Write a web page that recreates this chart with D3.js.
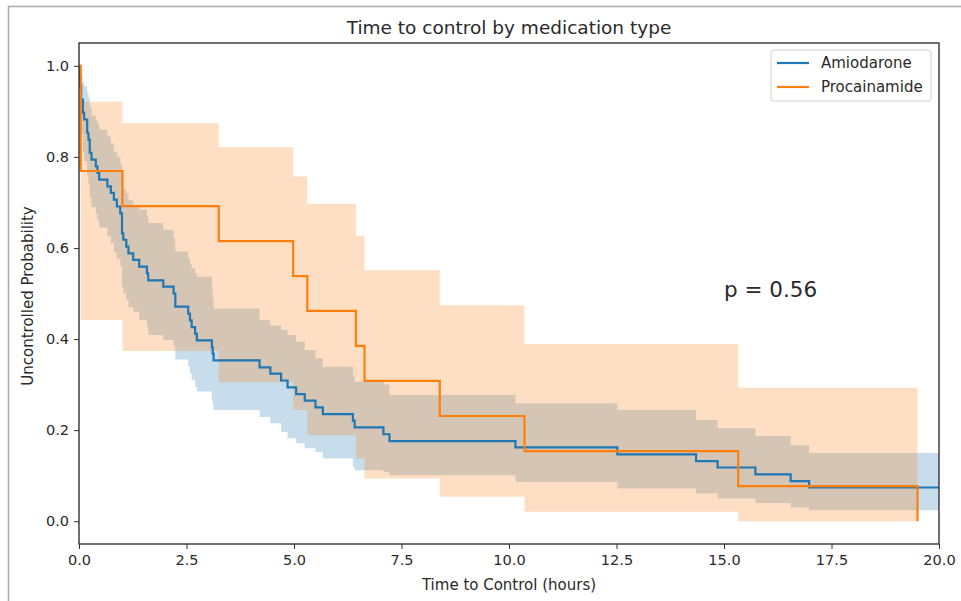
<!DOCTYPE html>
<html>
<head>
<meta charset="utf-8">
<script src="https://cdn.jsdelivr.net/npm/d3@7"></script>
<style>
  body { margin: 0; background: #fff; }
  svg { display: block; font-family: "DejaVu Sans", sans-serif; }
  .tick text { font-size: 14.5px; fill: #2a2a2a; }
  .label { font-size: 15px; fill: #2a2a2a; }
  .title { font-size: 18.5px; fill: #2a2a2a; }
</style>
</head>
<body>
<svg width="961" height="601"></svg>
<script>
// **** Data ****
// Amiodarone: event times (hours), survival, and 95% CI bounds after each event
var amioTime = [0, 0.02, 0.05, 0.09, 0.12, 0.19, 0.22, 0.25, 0.29, 0.39, 0.43, 0.47, 0.66, 0.74, 0.81, 0.88, 0.96,
  1.00, 1.03, 1.10, 1.15, 1.26, 1.40, 1.58, 1.61, 1.96, 2.20, 2.24, 2.54, 2.58, 2.62, 2.70, 2.74, 3.09, 3.11, 3.13,
  4.20, 4.45, 4.70, 4.85, 5.05, 5.25, 5.50, 5.67, 6.37, 6.41, 7.08, 7.22, 10.15, 12.52, 14.35, 14.85, 15.73, 16.55, 16.98];
var amioSurv = [1, 0.956, 0.926, 0.897, 0.882, 0.853, 0.838, 0.809, 0.794, 0.779, 0.765, 0.750, 0.735, 0.721, 0.706, 0.691, 0.676,
  0.632, 0.618, 0.603, 0.588, 0.574, 0.559, 0.544, 0.529, 0.515, 0.500, 0.471, 0.456, 0.441, 0.426, 0.412, 0.397, 0.382, 0.368, 0.353,
  0.338, 0.324, 0.309, 0.294, 0.279, 0.265, 0.250, 0.235, 0.221, 0.206, 0.191, 0.176, 0.162, 0.147, 0.132, 0.118, 0.103, 0.088, 0.074];
var amioLower = [1, 0.89, 0.85, 0.81, 0.79, 0.76, 0.74, 0.71, 0.69, 0.675, 0.66, 0.645, 0.625, 0.61, 0.59, 0.575, 0.56,
  0.515, 0.50, 0.485, 0.47, 0.46, 0.442, 0.427, 0.409, 0.398, 0.385, 0.355, 0.339, 0.325, 0.31, 0.295, 0.285, 0.266, 0.255, 0.244,
  0.229, 0.215, 0.196, 0.182, 0.171, 0.16, 0.152, 0.138, 0.119, 0.112, 0.108, 0.101, 0.086, 0.072, 0.061, 0.050, 0.040, 0.030, 0.024];
var amioUpper = [1, 0.99, 0.98, 0.965, 0.955, 0.94, 0.93, 0.91, 0.89, 0.88, 0.872, 0.86, 0.845, 0.83, 0.812, 0.80, 0.785,
  0.745, 0.73, 0.72, 0.705, 0.695, 0.684, 0.67, 0.655, 0.64, 0.621, 0.592, 0.577, 0.565, 0.555, 0.545, 0.537, 0.511, 0.49, 0.467,
  0.442, 0.43, 0.42, 0.409, 0.394, 0.376, 0.358, 0.339, 0.32, 0.306, 0.30, 0.277, 0.259, 0.244, 0.222, 0.204, 0.187, 0.167, 0.150];
var amioLast = 20.5;

// Procainamide
var procTime = [0, 0.04, 1.01, 3.25, 4.98, 5.31, 6.44, 6.64, 8.39, 10.36, 15.33, 19.50];
var procSurv = [1, 0.769, 0.692, 0.615, 0.538, 0.462, 0.385, 0.308, 0.231, 0.154, 0.077, 0];
var procLower = [1, 0.442, 0.374, 0.305, 0.244, 0.189, 0.138, 0.094, 0.054, 0.021, 0, 0];
var procUpper = [1, 0.921, 0.874, 0.821, 0.757, 0.697, 0.627, 0.551, 0.474, 0.389, 0.293, 0];

var xTicks = [0, 2.5, 5, 7.5, 10, 12.5, 15, 17.5, 20];
var yTicks = [0, 0.2, 0.4, 0.6, 0.8, 1.0];
var seriesNames = ['Amiodarone', 'Procainamide'];
var seriesColors = ['#1f77b4', '#ff7f0e'];
var pText = 'p = 0.56';

// **** Scales ****
var xScale = d3.scaleLinear().domain([0, 20]).range([79, 939]);
var yScale = d3.scaleLinear().domain([-0.05, 1.05]).range([544, 43]);

var svg = d3.select('svg');

// screenshot frame
svg.append('rect')
  .attr('x', 8.5).attr('y', 6.5).attr('width', 970).attr('height', 610)
  .attr('fill', 'none').attr('stroke', '#a8a8a8').attr('stroke-width', 1.5);

svg.append('clipPath').attr('id', 'plotclip')
  .append('rect').attr('x', 79).attr('y', 43).attr('width', 860).attr('height', 501);

function rows(t, s, lo, hi, last) {
  var r = t.map(function(d, i) { return {t: d, s: s[i], lo: lo[i], hi: hi[i]}; });
  r.push({t: last, s: s[s.length - 1], lo: lo[lo.length - 1], hi: hi[hi.length - 1]});
  return r;
}

var amio = rows(amioTime, amioSurv, amioLower, amioUpper, amioLast);
var proc = rows(procTime, procSurv, procLower, procUpper, procTime[procTime.length - 1]);
// orange band starts at the first event
var procBand = proc.slice(1);

var area = d3.area().curve(d3.curveStepAfter)
  .x(function(d) { return xScale(d.t); })
  .y0(function(d) { return yScale(d.lo); })
  .y1(function(d) { return yScale(d.hi); });

var line = d3.line().curve(d3.curveStepAfter)
  .x(function(d) { return xScale(d.t); })
  .y(function(d) { return yScale(d.s); });

var g = svg.append('g').attr('clip-path', 'url(#plotclip)');

g.append('path').datum(amio).attr('d', area)
  .attr('fill', seriesColors[0]).attr('fill-opacity', 0.25);
g.append('path').datum(procBand).attr('d', area)
  .attr('fill', seriesColors[1]).attr('fill-opacity', 0.25);
g.append('path').datum(amio).attr('d', line)
  .attr('fill', 'none').attr('stroke', seriesColors[0]).attr('stroke-width', 2.2);
g.append('path').datum(proc).attr('d', line)
  .attr('fill', 'none').attr('stroke', seriesColors[1]).attr('stroke-width', 2.2);

// **** Axes ****
var xAxis = svg.append('g').attr('transform', 'translate(0,544)')
  .call(d3.axisBottom(xScale).tickValues(xTicks).tickFormat(d3.format('.1f')).tickSizeOuter(0).tickSize(5).tickPadding(6));
var yAxis = svg.append('g').attr('transform', 'translate(79,0)')
  .call(d3.axisLeft(yScale).tickValues(yTicks).tickFormat(d3.format('.1f')).tickSizeOuter(0).tickSize(5).tickPadding(5));
[xAxis, yAxis].forEach(function(a) {
  a.select('.domain').remove();
  a.selectAll('.tick line').attr('stroke', '#333');
  a.selectAll('.tick text').style('font-family', 'DejaVu Sans');
});

// frame
svg.append('rect').attr('x', 79).attr('y', 43).attr('width', 860).attr('height', 501)
  .attr('fill', 'none').attr('stroke', '#333').attr('stroke-width', 1.4);

svg.append('text').attr('class', 'title')
  .attr('x', 509).attr('y', 34).attr('text-anchor', 'middle')
  .text('Time to control by medication type');

svg.append('text').attr('class', 'label')
  .attr('x', 509).attr('y', 590).attr('text-anchor', 'middle')
  .text('Time to Control (hours)');

svg.append('text').attr('class', 'label')
  .attr('transform', 'translate(33,296) rotate(-90)').attr('text-anchor', 'middle')
  .text('Uncontrolled Probability');

svg.append('text')
  .attr('x', xScale(15)).attr('y', yScale(0.5) + 3)
  .style('font-size', '21.5px').attr('fill', '#2a2a2a')
  .text(pText);

// **** Legend ****
var legend = svg.append('g').attr('transform', 'translate(771,50)');
legend.append('rect').attr('width', 160).attr('height', 51).attr('rx', 3)
  .attr('fill', '#fff').attr('fill-opacity', 0.8).attr('stroke', '#d0d0d0');
seriesNames.forEach(function(name, i) {
  var row = legend.append('g').attr('transform', 'translate(0,' + (13 + i * 24) + ')');
  row.append('line').attr('x1', 6).attr('x2', 38).attr('y1', 0).attr('y2', 0)
    .attr('stroke', seriesColors[i]).attr('stroke-width', 2.2);
  row.append('text').attr('x', 50).attr('y', 5)
    .style('font-size', '15px').attr('fill', '#2a2a2a').text(name);
});
</script>
</body>
</html>
